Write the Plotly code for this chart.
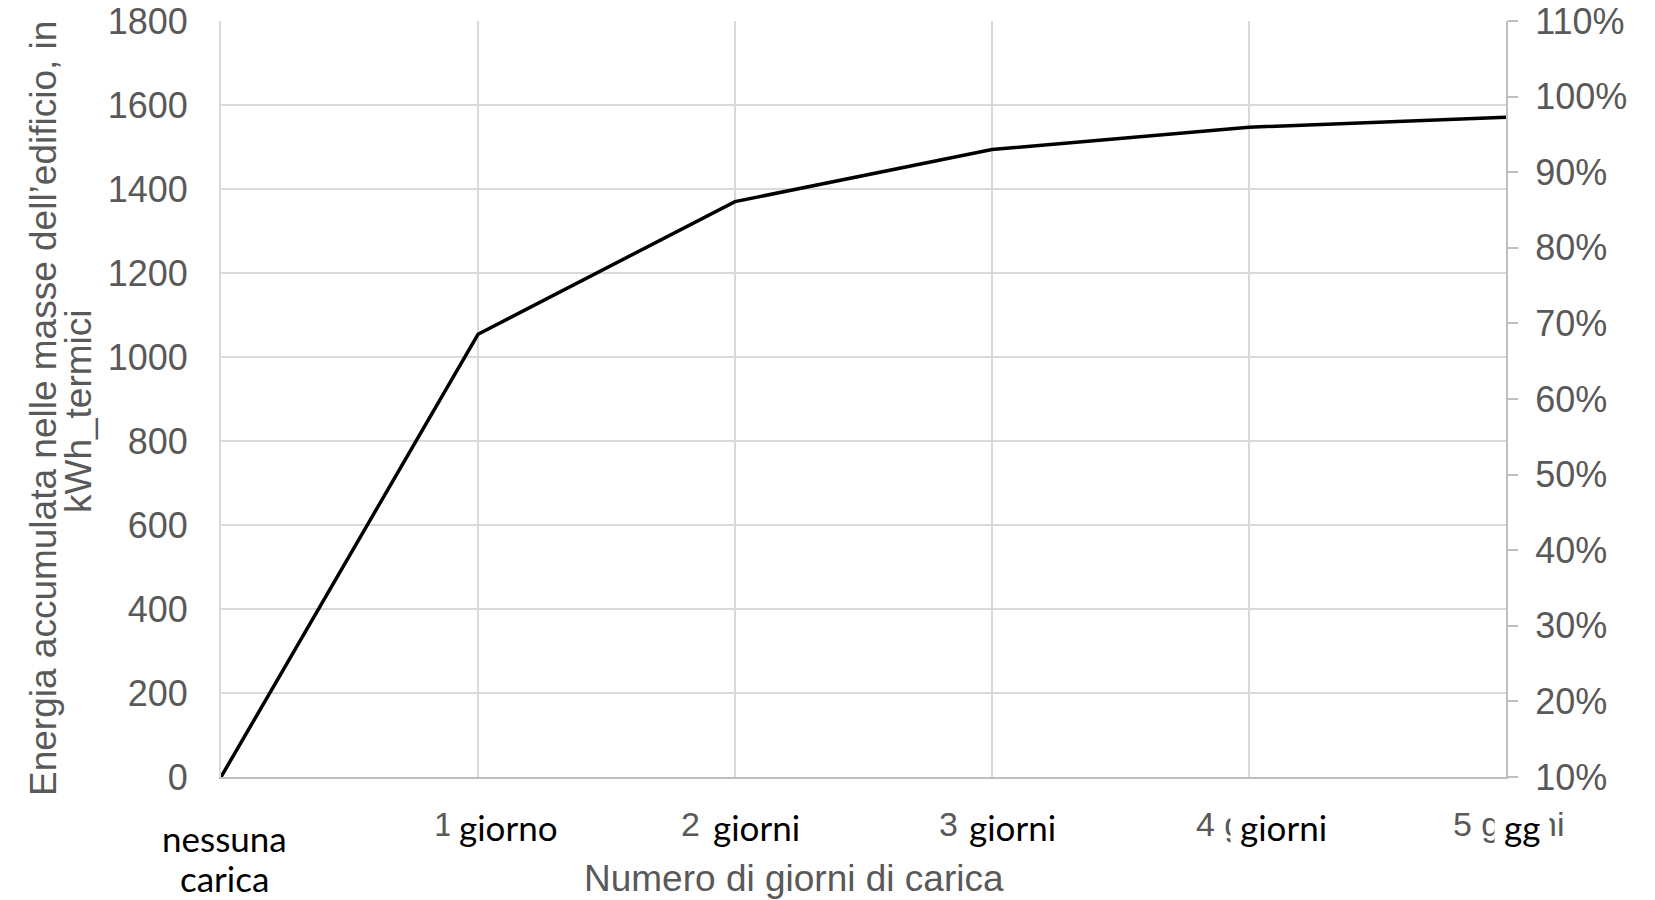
import plotly.graph_objects as go

# Categories (charging days) and accumulated energy in kWh_termici
categories = ["nessuna carica", "1 giorno", "2 giorni", "3 giorni", "4 giorni", "5 gg"]
energy_kwh = [0, 1054, 1370, 1494, 1547, 1571]

# Secondary axis (percentage) ticks
pct_ticks = [0.1, 0.2, 0.3, 0.4, 0.5, 0.6, 0.7, 0.8, 0.9, 1.0, 1.1]

# Gray base labels and black overlay labels under the x axis
base_labels = ["1 giorno", "2 giorni", "3 giorni", "4 giorni", "5 giorni"]
base_shift = [-46, -56, -55, -55, -55]
overlay_labels = ["giorno", "giorni", "giorni", "giorni", "gg"]
overlay_shift = [30, 21, 20, 34, 16]

GRAY = "#595959"
ARIAL = "Liberation Sans, Arial, sans-serif"
CALIBRI = "Lato, Carlito, Calibri, sans-serif"

fig = go.Figure()
fig.add_trace(go.Scatter(
    x=categories, y=energy_kwh, mode="lines",
    line=dict(color="black", width=3.5),
    showlegend=False, hoverinfo="skip",
))
# hidden series anchoring the percentage axis
fig.add_trace(go.Scatter(
    x=categories, y=[None] * len(categories), yaxis="y2", mode="lines",
    showlegend=False, hoverinfo="skip",
))

annotations = []
# gray category labels
for cat, lab, sh in zip(categories[1:], base_labels, base_shift):
    annotations.append(dict(
        x=cat, xref="x", y=0, yref="paper", xanchor="left", yanchor="middle",
        xshift=sh, yshift=-47, text=lab, showarrow=False,
        font=dict(family=ARIAL, size=34, color=GRAY),
    ))
# black labels on white boxes
for cat, lab, sh in zip(categories[1:], overlay_labels, overlay_shift):
    annotations.append(dict(
        x=cat, xref="x", y=0, yref="paper", xanchor="center", yanchor="middle",
        xshift=sh, yshift=-50, text=lab, showarrow=False,
        bgcolor="white", borderpad=9,
        font=dict(family=CALIBRI, size=35, color="black"),
    ))
annotations.append(dict(
    x=categories[0], xref="x", y=0, yref="paper", xanchor="center", yanchor="middle",
    xshift=3, yshift=-61, text="nessuna", showarrow=False,
    font=dict(family=CALIBRI, size=35, color="black"),
))
annotations.append(dict(
    x=categories[0], xref="x", y=0, yref="paper", xanchor="center", yanchor="middle",
    xshift=3, yshift=-101, text="carica", showarrow=False,
    font=dict(family=CALIBRI, size=35, color="black"),
))
# axis titles
annotations.append(dict(
    x=0, xref="paper", y=0, yref="paper", xanchor="center", yanchor="middle",
    xshift=573, yshift=-101, text="Numero di giorni di carica", showarrow=False,
    font=dict(family=ARIAL, size=37, color=GRAY),
))
annotations.append(dict(
    x=0, xref="paper", y=0.5, yref="paper", xanchor="center", yanchor="middle",
    xshift=-178, yshift=-10, textangle=-90,
    text="Energia accumulata nelle masse dell’edificio, in",
    showarrow=False, font=dict(family=ARIAL, size=37, color=GRAY),
))
annotations.append(dict(
    x=0, xref="paper", y=0.5, yref="paper", xanchor="center", yanchor="middle",
    xshift=-143, yshift=-12, textangle=-90,
    text="kWh_termici",
    showarrow=False, font=dict(family=ARIAL, size=37, color=GRAY),
))

fig.update_layout(
    width=1655, height=900,
    margin=dict(l=221, r=149, t=21, b=123),
    paper_bgcolor="white", plot_bgcolor="white",
    showlegend=False,
    xaxis=dict(
        type="category", range=[0, 5], tickvals=categories, ticktext=[""] * 6,
        showgrid=True, gridcolor="#d9d9d9", gridwidth=2,
        showline=True, linecolor="#bfbfbf", linewidth=2,
        ticks="", zeroline=False, fixedrange=True, automargin=False,
    ),
    yaxis=dict(
        range=[0, 1800], dtick=200, tick0=0,
        showgrid=True, gridcolor="#d9d9d9", gridwidth=2,
        showline=True, linecolor="#d9d9d9", linewidth=2,
        zeroline=False, ticks="", ticklabelstandoff=24, automargin=False,
        tickfont=dict(family=ARIAL, size=36, color=GRAY),
    ),
    yaxis2=dict(
        overlaying="y", side="right", range=[0.1, 1.1],
        tickvals=pct_ticks, tickformat=".0%",
        showgrid=False, zeroline=False, automargin=False,
        showline=True, linecolor="#bfbfbf", linewidth=2,
        ticks="outside", ticklen=10, tickwidth=2, tickcolor="#bfbfbf",
        ticklabelstandoff=10,
        tickfont=dict(family=ARIAL, size=36, color=GRAY),
    ),
    annotations=annotations,
)

fig.write_html("out.html")
